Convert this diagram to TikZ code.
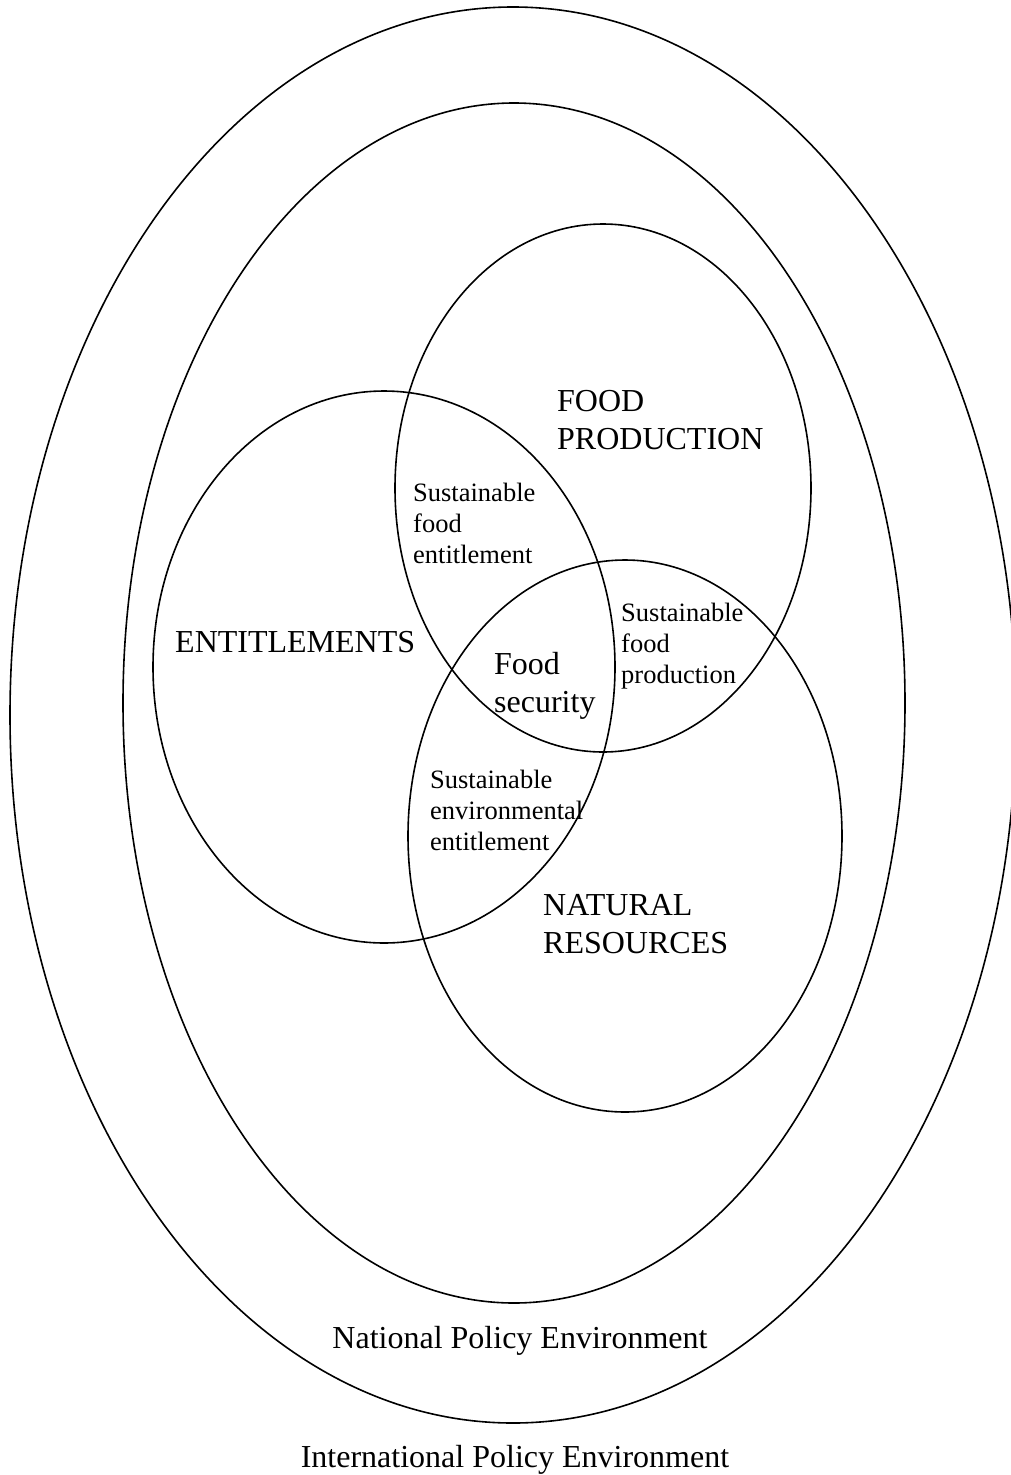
\documentclass[tikz,border=0pt]{standalone}
\usepackage{fontspec}
\setmainfont{Liberation Serif}
\usetikzlibrary{positioning,shapes}

\begin{document}
\begin{tikzpicture}
  [
      x=1pt, y=-1pt,
      ring/.style={ellipse, draw, line width=1.6pt, inner sep=0pt},
      big label/.style={anchor=base west, align=left, inner sep=0pt, font=\rmfamily\fontsize{32}{38}\selectfont},
      small label/.style={anchor=base west, align=left, inner sep=0pt, font=\rmfamily\fontsize{26.5}{31}\selectfont}
    ]
    \useasboundingbox (0,0) rectangle (1011,1475);
    \clip (0,0) rectangle (1011,1475);
    % policy rings
    \node (intl) [ring, minimum width=1006pt, minimum height=1416pt] at (513,715) {};
    \node (natl) [ring, minimum width=782pt, minimum height=1200pt] at (514,703) {};
    % the three sets
    \node (prod) [ring, minimum width=416pt, minimum height=528pt] at (603,488) {};
    \node (ent) [ring, minimum width=462pt, minimum height=552pt] at (384,667) {};
    \node (res) [ring, minimum width=434pt, minimum height=552pt] at (625,836) {};
    % labels (base = last line)
    \node (prod label) [big label] at (557,449) {FOOD\\PRODUCTION};
    \node (ent label) [big label] at (175,652) {ENTITLEMENTS};
    \node (res label) [big label] at (543,953) {NATURAL\\RESOURCES};
    \node (sec label) [big label] at (494,712) {Food\\security};
    \node (sfe label) [small label] at (413,563) {Sustainable\\food\\entitlement};
    \node (sfp label) [small label] at (621,683) {Sustainable\\food\\production};
    \node (see label) [small label] at (430,850) {Sustainable\\environmental\\entitlement};
    \node (natl label) [big label, anchor=base] at (520,1348) {National Policy Environment};
    \node (intl label) [big label, anchor=base] at (515,1467) {International Policy Environment};
  \end{tikzpicture}
\end{document}
